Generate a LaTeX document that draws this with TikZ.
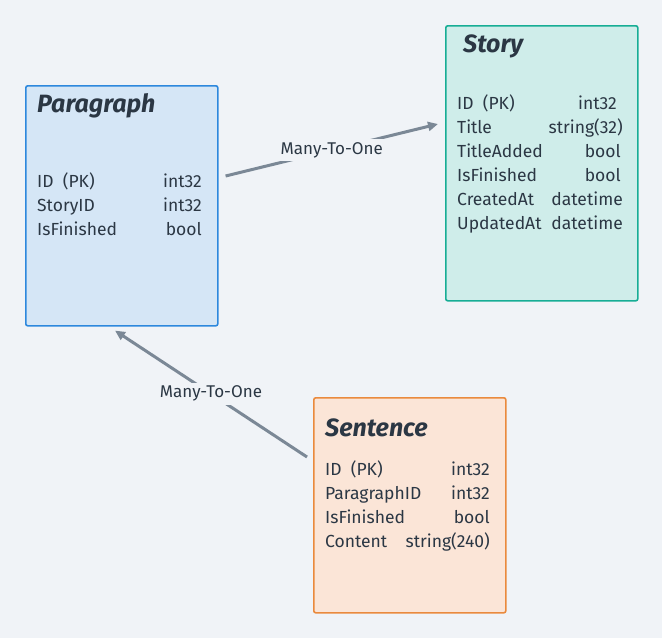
\documentclass[tikz,border=0pt]{standalone}
\usepackage{fontspec}
\setmainfont{Fira Sans}
\usetikzlibrary{arrows.meta,calc}
\definecolor{canvas}{HTML}{F0F3F7}
\definecolor{ink}{HTML}{2B3744}
\definecolor{edgec}{HTML}{7B8896}
\definecolor{parafill}{HTML}{D5E6F6}
\definecolor{paraline}{HTML}{2D88DD}
\definecolor{storyfill}{HTML}{CFEDEA}
\definecolor{storyline}{HTML}{17AD95}
\definecolor{sentfill}{HTML}{FBE5D7}
\definecolor{sentline}{HTML}{EA8A3D}
\tikzset{>={Triangle[length=10pt,width=9pt]},
	entity/.style={draw,line width=1.6pt,rounded corners=2pt,anchor=north west,inner sep=0pt},
	etitle/.style={anchor=base west,inner sep=0pt,text=ink,font=\fontsize{25}{30}\selectfont\bfseries\itshape},
	fname/.style={anchor=base west,inner sep=0pt,text=ink,font=\fontsize{17.5}{21}\selectfont},
	ftype/.style={anchor=base east,inner sep=0pt,text=ink,font=\fontsize{17.5}{21}\selectfont},
	rel/.style={draw=edgec,line width=3pt},
	gap/.style={fill=canvas,inner sep=3pt,text=ink,font=\fontsize{17}{20}\selectfont}}
\begin{document}
\begin{tikzpicture}[x=1pt,y=-1pt]
	\useasboundingbox[fill=canvas] (0,0) rectangle (662,638);
	% entities
	\node (para) at (25,85) [entity,fill=parafill,draw=paraline,minimum width=192pt,minimum height=240pt] {};
	\node (story) at (445,25) [entity,fill=storyfill,draw=storyline,minimum width=192pt,minimum height=275pt] {};
	\node (sent) at (313,397) [entity,fill=sentfill,draw=sentline,minimum width=192pt,minimum height=215pt] {};
	% titles
	\node (paraT) at (37,112) [etitle] {Paragraph};
	\node (storyT) at (463,52) [etitle] {Story};
	\node (sentT) at (325,436) [etitle] {Sentence};
	% fields
	\foreach \n/\t [count=\i] in {ID\ \ (PK)/int32,StoryID/int32,IsFinished/bool}
		{\node at (37,163+24*\i) [fname] {\n};
		 \node at (202,163+24*\i) [ftype] {\t};}
	\foreach \n/\t/\r [count=\i] in {ID\ \ (PK)/int32/617,Title/string(32)/623,TitleAdded/bool/621,IsFinished/bool/621,CreatedAt/datetime/623,UpdatedAt/datetime/623}
		{\node at (457,85+24*\i) [fname] {\n};
		 \node at (\r,85+24*\i) [ftype] {\t};}
	\foreach \n/\t [count=\i] in {ID\ \ (PK)/int32,ParagraphID/int32,IsFinished/bool,Content/string(240)}
		{\node at (325,451+24*\i) [fname] {\n};
		 \node at (490,451+24*\i) [ftype] {\t};}
	% relations
	\coordinate (paraR) at ($(para.north east)+(7,91)$);
	\coordinate (storyL) at ($(story.north west)+(-7,99)$);
	\coordinate (sentL) at ($(sent.north west)+(-6,60)$);
	\coordinate (paraB) at ($(para.south west)+(90,4)$);
	\draw [rel,->] (paraR) -- node[gap]{Many-To-One} (storyL);
	\draw [rel,->] (sentL) -- node[gap]{Many-To-One} (paraB);
\end{tikzpicture}
\end{document}
